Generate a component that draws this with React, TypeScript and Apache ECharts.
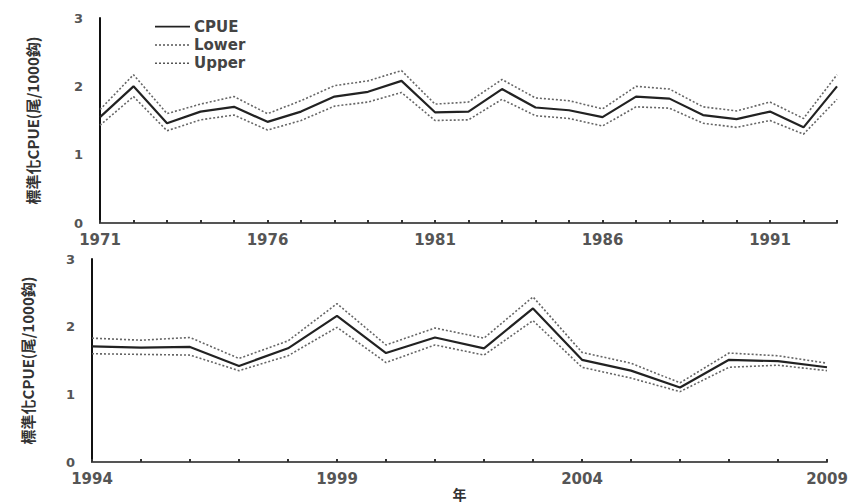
import React, { useEffect, useRef } from 'react';
import * as echarts from 'echarts';

const topYears = ['1971','1972','1973','1974','1975','1976','1977','1978','1979','1980','1981','1982','1983','1984','1985','1986','1987','1988','1989','1990','1991','1992','1993'];
const topCPUE = [1.55,2.0,1.46,1.63,1.70,1.48,1.63,1.85,1.92,2.08,1.62,1.63,1.96,1.69,1.65,1.55,1.85,1.82,1.58,1.52,1.63,1.40,2.0];
const topUpper = [1.66,2.17,1.60,1.74,1.85,1.60,1.79,2.01,2.08,2.23,1.74,1.77,2.10,1.83,1.79,1.67,2.00,1.96,1.70,1.64,1.77,1.53,2.17];
const topLower = [1.43,1.85,1.35,1.51,1.58,1.36,1.50,1.71,1.77,1.91,1.50,1.51,1.81,1.57,1.53,1.42,1.70,1.68,1.46,1.40,1.50,1.30,1.81];

const botYears = ['1994','1995','1996','1997','1998','1999','2000','2001','2002','2003','2004','2005','2006','2007','2008','2009'];
const botCPUE = [1.71,1.69,1.70,1.42,1.68,2.16,1.61,1.84,1.68,2.27,1.51,1.35,1.10,1.51,1.49,1.40];
const botUpper = [1.83,1.80,1.84,1.53,1.79,2.34,1.73,1.98,1.83,2.44,1.62,1.46,1.17,1.61,1.57,1.46];
const botLower = [1.60,1.59,1.58,1.35,1.57,1.99,1.47,1.73,1.58,2.09,1.40,1.24,1.04,1.40,1.43,1.35];

const yTitle = '標準化CPUE(尾/1000鈎)';
const xTitle = '年';
const legendNames = ['CPUE', 'Lower', 'Upper'];

const FONT = 'DejaVu Sans';
const CJK = 'Noto Sans CJK TC';

export default function App() {
  const ref = useRef<HTMLDivElement>(null);
  useEffect(() => {
    const chart = echarts.init(ref.current!, null, { renderer: 'svg' });
    const makeX = (gridIndex: number, data: string[], name?: string) => ({
      type: 'category',
      gridIndex,
      data,
      boundaryGap: false,
      name: name || '',
      nameLocation: 'middle',
      nameGap: 21,
      nameTextStyle: { fontFamily: CJK, fontSize: 14, fontWeight: 'bold', color: '#333', lineHeight: 14 },
      axisLine: { show: true, lineStyle: { color: '#555', width: 2 } },
      axisTick: { show: true, inside: true, length: 3, interval: 0, lineStyle: { color: '#333', width: 2 } },
      axisLabel: { interval: 4, margin: 9, fontFamily: FONT, fontSize: 15, color: '#555', fontWeight: 'bold' },
      splitLine: { show: false },
    });
    const makeY = (gridIndex: number, gap: number) => ({
      type: 'value',
      gridIndex,
      min: 0,
      max: 3,
      interval: 1,
      name: yTitle,
      nameLocation: 'middle',
      nameRotate: 90,
      nameGap: gap,
      nameTextStyle: { fontFamily: CJK, fontSize: 15, fontWeight: 'bold', color: '#333' },
      axisLine: { show: true, lineStyle: { color: '#111', width: 2 } },
      axisTick: { show: false },
      axisLabel: { margin: 17, fontFamily: FONT, fontSize: 13, color: '#555', fontWeight: 'bold' },
      splitLine: { show: false },
    });
    const solid = { color: '#222', width: 2.2, type: 'solid' };
    const dotted = { color: '#666', width: 1.6, type: [2, 2] };
    const mk = (name: string, data: number[], idx: number, style: any) => ({
      name,
      type: 'line',
      xAxisIndex: idx,
      yAxisIndex: idx,
      data,
      symbol: 'none',
      lineStyle: style,
      z: name === 'CPUE' ? 3 : 2,
    });
    const legendY = [26.7, 45, 63.3];
    const legendGraphics: any[] = [];
    legendNames.forEach((n, i) => {
      legendGraphics.push({
        type: 'line',
        shape: { x1: 155, y1: legendY[i], x2: 190, y2: legendY[i] },
        style: i === 0 ? { stroke: '#222', lineWidth: 1.8 } : { stroke: '#555', lineWidth: 1.6, lineDash: [2, 2] },
      });
      legendGraphics.push({
        type: 'text',
        x: 194,
        y: legendY[i],
        style: { text: n, fontFamily: FONT, fontSize: 15, fontWeight: 'bold', fill: '#444', textVerticalAlign: 'middle', textAlign: 'left' },
      });
    });
    const option: any = {
      animation: false,
      backgroundColor: '#fff',
      grid: [
        { left: 100, top: 18, width: 737, height: 205 },
        { left: 92, top: 259, width: 735, height: 203 },
      ],
      xAxis: [makeX(0, topYears), makeX(1, botYears, xTitle)],
      yAxis: [makeY(0, 60), makeY(1, 57)],
      series: [
        mk('Upper', topUpper, 0, dotted),
        mk('Lower', topLower, 0, dotted),
        mk('CPUE', topCPUE, 0, solid),
        mk('Upper', botUpper, 1, dotted),
        mk('Lower', botLower, 1, dotted),
        mk('CPUE', botCPUE, 1, solid),
      ],
      graphic: legendGraphics,
    };
    chart.setOption(option);
    return () => chart.dispose();
  }, []);
  return <div ref={ref} style={{ position: 'fixed', left: 0, top: 0, width: 852, height: 503, background: '#fff' }} />;
}
